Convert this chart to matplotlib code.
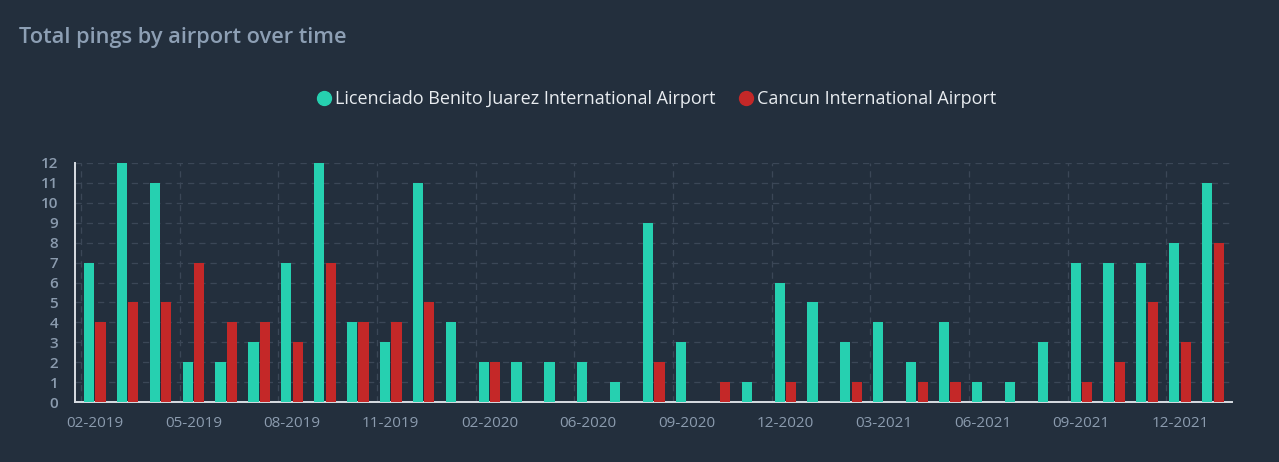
import numpy as np
import matplotlib.pyplot as plt
from matplotlib.lines import Line2D

# months on the category axis (04-2020 has no data)
months = ['02-2019', '03-2019', '04-2019', '05-2019', '06-2019', '07-2019',
          '08-2019', '09-2019', '10-2019', '11-2019', '12-2019', '01-2020',
          '02-2020', '03-2020', '05-2020', '06-2020', '07-2020', '08-2020',
          '09-2020', '10-2020', '11-2020', '12-2020', '01-2021', '02-2021',
          '03-2021', '04-2021', '05-2021', '06-2021', '07-2021', '08-2021',
          '09-2021', '10-2021', '11-2021', '12-2021', '01-2022']

benito_juarez = [7, 12, 11, 2, 2, 3, 7, 12, 4, 3, 11, 4,
                 2, 2, 2, 2, 1, 9, 3, 0, 1, 6, 5, 3,
                 4, 2, 4, 1, 1, 3, 7, 7, 7, 8, 11]
cancun = [4, 5, 5, 7, 4, 4, 3, 7, 4, 4, 5, 0,
          2, 0, 0, 0, 0, 2, 0, 1, 0, 1, 0, 1,
          0, 1, 1, 0, 0, 0, 1, 2, 5, 3, 8]

series_names = ['Licenciado Benito Juarez International Airport',
                'Cancun International Airport']

bg = '#232f3d'
teal = '#26d0b0'
red = '#c42828'
label_col = '#8b9bae'
grid_col = '#3b4757'

plt.rcParams['font.family'] = ['Open Sans', 'DejaVu Sans']

fig = plt.figure(figsize=(12.79, 4.62), dpi=100, facecolor=bg)
ax = fig.add_axes([75 / 1279, 1 - 402 / 462, (1232 - 75) / 1279, (402 - 163) / 462])
ax.set_facecolor(bg)

x = np.arange(len(months))
w = 0.31
ax.bar(x - 0.175, benito_juarez, width=w, color=teal, zorder=3)
ax.bar(x + 0.175, cancun, width=w, color=red, zorder=3)

ax.set_xlim(-0.6, len(months) - 0.42)
ax.set_ylim(0, 12)
ax.set_yticks(range(0, 13))
ax.set_xticks(x[::3])
ax.set_xticklabels(months[::3])
ax.tick_params(axis='both', length=0, colors=label_col, labelsize=11)
ax.tick_params(axis='x', pad=10)
ax.tick_params(axis='y', pad=12)
for t in ax.get_yticklabels():
    t.set_fontweight('semibold')

# grid: horizontal at every value, vertical at the start of each labelled month
ax.yaxis.grid(True, linestyle=(0, (5, 4)), color=grid_col, linewidth=0.9, zorder=0)
for xv in x[::3]:
    ax.axvline(xv - 0.42, linestyle=(0, (5, 4)), color=grid_col, linewidth=0.9, zorder=0)

for s in ['top', 'right']:
    ax.spines[s].set_visible(False)
ax.spines['left'].set_color('#d8dde3')
ax.spines['bottom'].set_color('#d8dde3')
ax.spines['left'].set_linewidth(1.4)
ax.spines['bottom'].set_linewidth(1.4)

fig.text(19 / 1279, 1 - 37 / 462, 'Total pings by airport over time', color='#8d9fb4',
         fontsize=15.7, fontweight='semibold', va='center', ha='left')

handles = [Line2D([], [], marker='o', linestyle='none', color=teal, markersize=10),
           Line2D([], [], marker='o', linestyle='none', color=red, markersize=10)]
leg = fig.legend(handles, series_names, loc='center', bbox_to_anchor=(656 / 1279, 1 - 99 / 462),
                 ncol=2, frameon=False, fontsize=13, handletextpad=0.1, columnspacing=1.2,
                 handlelength=1.0)
for t in leg.get_texts():
    t.set_color('#e8ecf0')

fig.savefig('out.png', dpi=100, facecolor=bg)
